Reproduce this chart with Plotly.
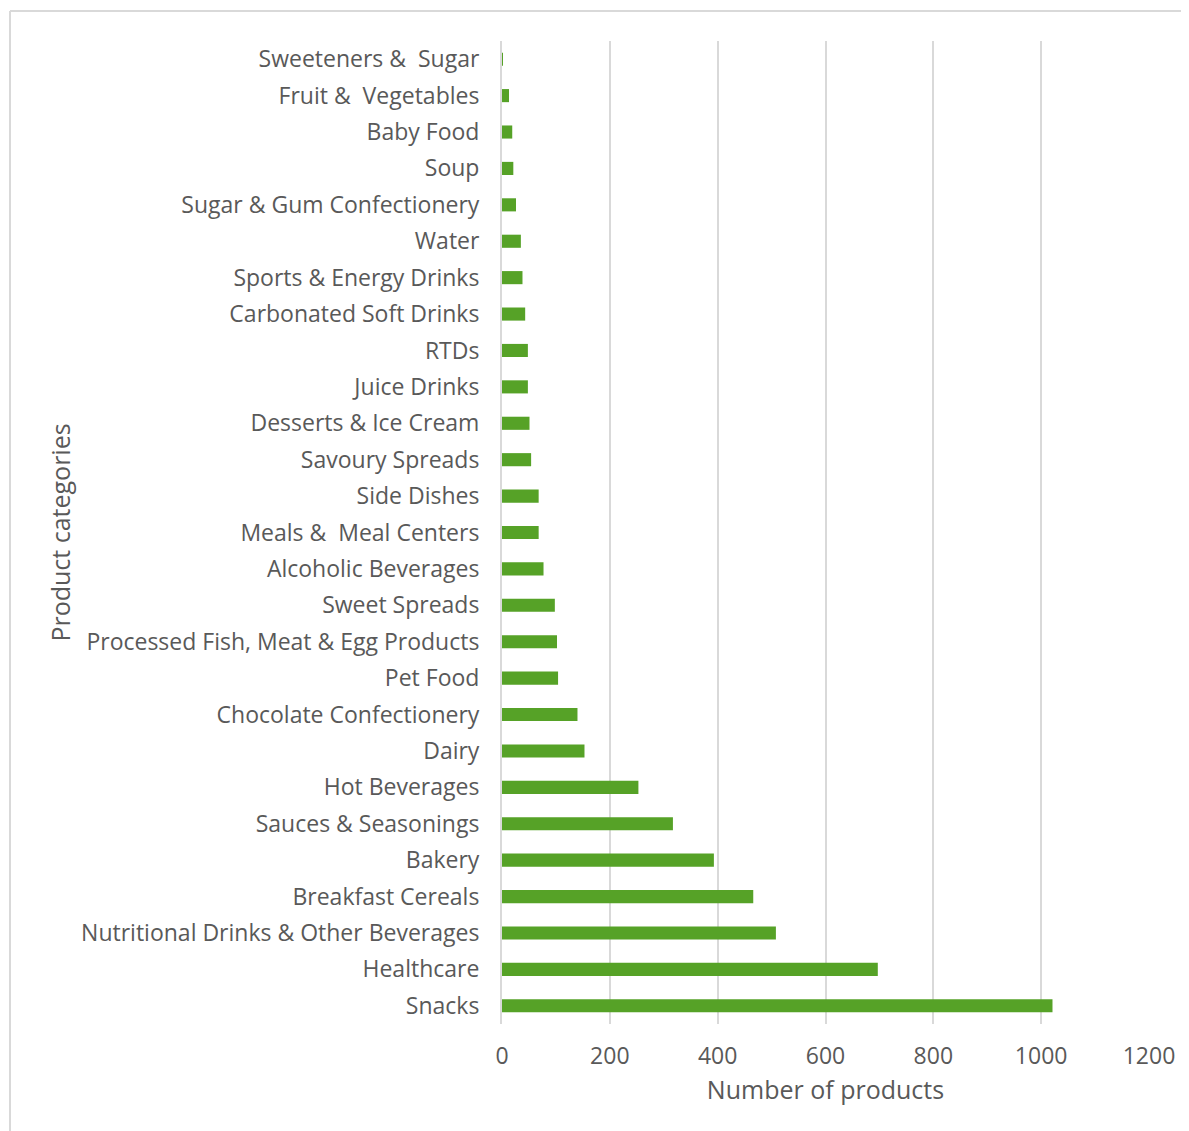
import plotly.graph_objects as go

categories = [
    "Sweeteners &  Sugar", "Fruit &  Vegetables", "Baby Food", "Soup",
    "Sugar & Gum Confectionery", "Water", "Sports & Energy Drinks",
    "Carbonated Soft Drinks", "RTDs", "Juice Drinks", "Desserts & Ice Cream",
    "Savoury Spreads", "Side Dishes", "Meals &  Meal Centers",
    "Alcoholic Beverages", "Sweet Spreads", "Processed Fish, Meat & Egg Products",
    "Pet Food", "Chocolate Confectionery", "Dairy", "Hot Beverages",
    "Sauces & Seasonings", "Bakery", "Breakfast Cereals",
    "Nutritional Drinks & Other Beverages", "Healthcare", "Snacks",
]
values = [
    1, 13, 19, 21,
    26, 35, 38,
    43, 48, 48, 51,
    54, 68, 68,
    77, 98, 102,
    104, 140, 153, 253,
    317, 393, 466,
    508, 697, 1021,
]
x_ticks = [0, 200, 400, 600, 800, 1000, 1200]

FONT = "Open Sans"
TXT = "#595959"

W, H = 1181, 1123
L, T = 494, 33
PW, PH = 647, 983
R = W - L - PW
B = H - T - PH

fx = (2 - L) / PW
fy = 1 + (T - 3) / PH

fig = go.Figure(go.Bar(
    x=values, y=categories, orientation="h",
    marker=dict(color="#56a227", line=dict(width=0)),
    width=0.36,
))

fig.update_layout(
    width=W, height=H,
    paper_bgcolor="white", plot_bgcolor="white",
    margin=dict(l=L, r=R, t=T, b=B, pad=0),
    showlegend=False,
    font=dict(family=FONT, size=23, color=TXT),
    xaxis=dict(
        range=[0, 1200], tickvals=x_ticks, ticktext=[str(v) for v in x_ticks],
        showgrid=True, gridcolor="#d9d9d9", gridwidth=1.5,
        zeroline=False, showline=False, ticks="", ticklabelstandoff=16,
        tickfont=dict(family=FONT, size=23, color=TXT),
        title=dict(text="Number of products", font=dict(family=FONT, size=25, color=TXT), standoff=11),
    ),
    yaxis=dict(
        categoryorder="array", categoryarray=categories, autorange="reversed",
        showline=True, linecolor="#d9d9d9", linewidth=2,
        showgrid=False, ticks="", ticklabelstandoff=16,
        tickfont=dict(family=FONT, size=23, color=TXT),
        title=dict(text="Product categories", font=dict(family=FONT, size=25, color=TXT), standoff=3),
    ),
    shapes=[
        dict(type="line", xref="paper", yref="paper",
             x0=fx, x1=1.2, y0=fy, y1=fy,
             line=dict(color="#d9d9d9", width=2)),
        dict(type="line", xref="paper", yref="paper",
             x0=fx, x1=fx, y0=-0.2, y1=fy,
             line=dict(color="#d9d9d9", width=2)),
    ],
)

fig.write_html("out.html")
